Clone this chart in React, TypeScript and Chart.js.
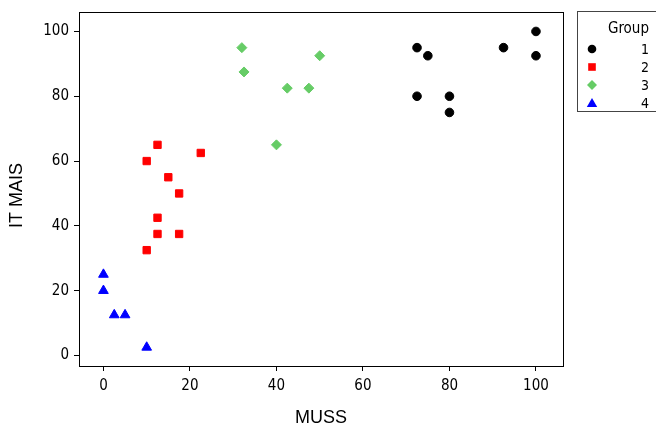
import React, { useEffect, useRef } from "react";
import { Chart, registerables } from "chart.js";

Chart.register(...registerables);

const xTicks = [0, 20, 40, 60, 80, 100];
const yTicks = [0, 20, 40, 60, 80, 100];

const groupNames = ["1", "2", "3", "4"];
const groupColors = ["#000000", "#FF0000", "#66CC66", "#0000FF"];
const groupStyles = ["circle", "rect", "rectRot", "triangle"];
const groupRadii = [4.3, 5.2, 5.0, 5.6];

const muss1 = [72.5, 75, 92.5, 100, 100, 72.5, 80, 80];
const itmais1 = [95, 92.5, 95, 100, 92.5, 80, 80, 75];

const muss2 = [12.5, 22.5, 10, 15, 17.5, 12.5, 12.5, 17.5, 10];
const itmais2 = [65, 62.5, 60, 55, 50, 42.5, 37.5, 37.5, 32.5];

const muss3 = [32, 50, 32.5, 42.5, 47.5, 40];
const itmais3 = [95, 92.5, 87.5, 82.5, 82.5, 65];

const muss4 = [0, 0, 2.5, 5, 10];
const itmais4 = [25, 20, 12.5, 12.5, 2.5];

const xs = [muss1, muss2, muss3, muss4];
const ys = [itmais1, itmais2, itmais3, itmais4];

const xTitle = "MUSS";
const yTitle = "IT MAIS";

const TICK_FONT = "'DejaVu Sans Condensed', 'DejaVu Sans', sans-serif";
const TITLE_FONT = "'Liberation Sans', Arial, sans-serif";

const frame = {
  id: "frame",
  afterDatasetsDraw(chart: any) {
    const { ctx, chartArea } = chart;
    ctx.save();
    ctx.strokeStyle = "#000";
    ctx.lineWidth = 1;
    ctx.strokeRect(
      Math.round(chartArea.left) + 0.5,
      Math.round(chartArea.top) + 0.5,
      Math.round(chartArea.right - chartArea.left),
      Math.round(chartArea.bottom - chartArea.top)
    );
    ctx.restore();
  },
  afterDraw(chart: any) {
    const { ctx, chartArea } = chart;
    ctx.save();
    ctx.fillStyle = "#000";
    ctx.font = `18px ${TITLE_FONT}`;
    ctx.textAlign = "center";
    ctx.textBaseline = "middle";
    ctx.translate(17, (chartArea.top + chartArea.bottom) / 2 + 6.5);
    ctx.rotate(-Math.PI / 2);
    ctx.fillText(yTitle, 0, 0);
    ctx.restore();
  },
};

function Marker({ i }: { i: number }) {
  const c = groupColors[i];
  let shape: any = null;
  if (i === 0) shape = <circle cx={6} cy={6} r={4.3} fill={c} />;
  if (i === 1) shape = <rect x={2.2} y={2.2} width={7.6} height={7.6} fill={c} />;
  if (i === 2) shape = <polygon points="6,1 11,6 6,11 1,6" fill={c} />;
  if (i === 3) shape = <polygon points="6,1 11.2,10 0.8,10" fill={c} />;
  return (
    <svg width={12} height={12} style={{ position: "absolute", left: 0, top: 0 }}>
      {shape}
    </svg>
  );
}

export default function App() {
  const ref = useRef<HTMLCanvasElement>(null);

  useEffect(() => {
    if (!ref.current) return;
    const datasets = groupNames.map((name, i) => ({
      label: name,
      data: xs[i].map((x, k) => ({ x, y: ys[i][k] })),
      pointStyle: groupStyles[i],
      pointRadius: groupRadii[i],
      pointHoverRadius: groupRadii[i],
      backgroundColor: groupColors[i],
      borderColor: groupColors[i],
      borderWidth: 1,
      showLine: false,
    }));
    const chart = new Chart(ref.current, {
      type: "scatter",
      data: { datasets },
      plugins: [frame],
      options: {
        animation: false,
        responsive: false,
        devicePixelRatio: 1,
        layout: { padding: { left: 0, top: 12, right: 93, bottom: 0 } },
        plugins: { legend: { display: false }, tooltip: { enabled: false } },
        scales: {
          x: {
            type: "linear",
            min: -5.65,
            max: 106.25,
            afterBuildTicks: (s: any) => {
              s.ticks = xTicks.map((v) => ({ value: v }));
            },
            afterFit: (s: any) => {
              s.height = 60;
              s.paddingLeft = 0;
              s.paddingRight = 0;
            },
            grid: {
              drawOnChartArea: false,
              drawTicks: true,
              tickLength: 5,
              color: "#000",
            },
            border: { display: true, color: "#000", width: 1 },
            ticks: {
              color: "#000",
              padding: 6,
              maxRotation: 0,
              font: { family: TICK_FONT, size: 15 },
              callback: (v: any) => String(v),
            },
            title: {
              display: true,
              text: xTitle,
              color: "#000",
              padding: { top: 0, bottom: 0 },
              font: { family: TITLE_FONT, size: 18, lineHeight: 0.9 },
            },
          },
          y: {
            type: "linear",
            min: -3.25,
            max: 106,
            afterBuildTicks: (s: any) => {
              s.ticks = yTicks.map((v) => ({ value: v }));
            },
            afterFit: (s: any) => {
              s.width = 79;
              s.paddingTop = 0;
              s.paddingBottom = 0;
            },
            grid: {
              drawOnChartArea: false,
              drawTicks: true,
              tickLength: 5,
              color: "#000",
            },
            border: { display: true, color: "#000", width: 1 },
            ticks: {
              color: "#000",
              padding: 5,
              font: { family: TICK_FONT, size: 15 },
              callback: (v: any) => String(v),
            },
            title: { display: false },
          },
        },
      },
      } as any);
    return () => chart.destroy();
  }, []);

  const rowY = [36.5, 54.5, 73, 91];

  return (
    <div
      style={{
        position: "fixed",
        left: 0,
        top: 0,
        width: 656,
        height: 426,
        overflow: "hidden",
        background: "#fff",
      }}
    >
      <canvas ref={ref} width={656} height={426} style={{ width: 656, height: 426, display: "block" }} />
      <div
        style={{
          position: "absolute",
          left: 577,
          top: 11,
          width: 100,
          height: 99,
          border: "1px solid #444",
          fontFamily: TICK_FONT,
          color: "#000",
        }}
      >
        <div
          style={{
            position: "absolute",
            left: 0,
            width: 71,
            top: 16 - 9,
            lineHeight: "18px",
            fontSize: 15,
            textAlign: "right",
            whiteSpace: "nowrap",
          }}
        >
          Group
        </div>
        {groupNames.map((n, i) => (
          <React.Fragment key={n}>
            <div style={{ position: "absolute", left: 8, top: rowY[i] - 6, width: 12, height: 12 }}>
              <Marker i={i} />
            </div>
            <div
              style={{
                position: "absolute",
                left: 0,
                width: 71,
                top: rowY[i] - 8,
                lineHeight: "16px",
                fontSize: 14,
                textAlign: "right",
              }}
            >
              {n}
            </div>
          </React.Fragment>
        ))}
      </div>
    </div>
  );
}
